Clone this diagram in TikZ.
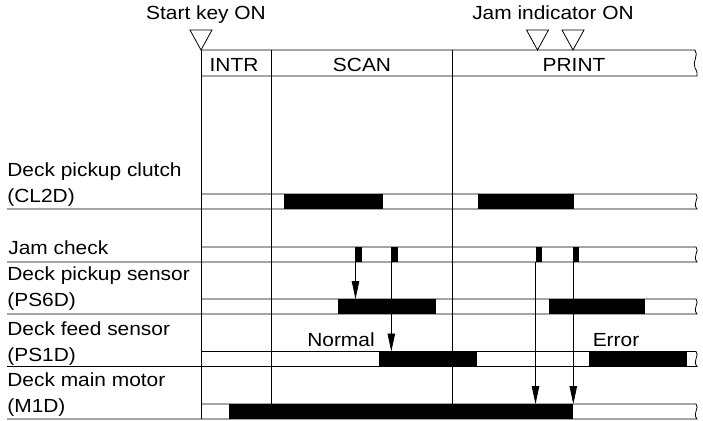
\documentclass[tikz,border=0pt]{standalone}
\usepackage{fontspec}
\setmainfont{Liberation Sans}[FakeStretch=1.1]
\usetikzlibrary{arrows.meta}

\begin{document}
\begin{tikzpicture}[x=1pt, y=-1pt, line width=0.8pt,
    font=\fontsize{19}{26}\selectfont,
    lbl/.style={anchor=base west, inner sep=0pt, align=left},
    hd/.style={anchor=base, inner sep=0pt},
    sig/.style={-{Triangle[width=7.5pt,length=18pt]}}]
    \useasboundingbox (0,0) rectangle (703,420);

    % trigger marks
    \node[hd] (startkey) at (206,19.5) {Start key ON};
    \node[hd] (jamind) at (553,19.5) {Jam indicator ON};
    \draw (190,30) -- (212,30) -- (201,50) -- cycle;
    \draw (526.5,30) -- (548.5,30) -- (537.5,50) -- cycle;
    \draw (562,30) -- (584,30) -- (573,50) -- cycle;

    % header strip
    \draw (201,50) -- (695,50) .. controls (699,55) and (692,62) .. (695,68)
        .. controls (697,71) .. (697,76) -- (201,76);
    \node[hd] (intr) at (234,71) {INTR};
    \node[hd] (scan) at (362,71) {SCAN};
    \node[hd] (print) at (574,71) {PRINT};

    % signal names (base = last line)
    \node[lbl] (clutch) at (7,202) {Deck pickup clutch\\(CL2D)};
    \node[lbl] (jamchk) at (8,254) {Jam check};
    \node[lbl] (ps6d) at (7,306.7) {Deck pickup sensor\\(PS6D)};
    \node[lbl] (ps1d) at (7,361) {Deck feed sensor\\(PS1D)};
    \node[lbl] (m1d) at (7,412.7) {Deck main motor\\(M1D)};

    % on periods
    \fill (284,194) rectangle (382.7,209);
    \fill (477.7,194) rectangle (574.3,209);
    \fill (355,247) rectangle (361.7,262);
    \fill (391,247) rectangle (397.7,262);
    \fill (535.7,247) rectangle (542.3,262);
    \fill (572.7,247) rectangle (579.3,262);
    \fill (338,299) rectangle (436,314);
    \fill (548.7,299) rectangle (645.3,314);
    \fill (379,351.5) rectangle (477.3,366.5);
    \fill (589.3,351.5) rectangle (687.3,366.5);
    \fill (229,404) rectangle (573.3,419);

    % strips
    \foreach \t in {194,247,299,351.5,404}
        \draw (201,\t) -- (696,\t) .. controls (700,\t+4) and (692,\t+9) .. (697,\t+15) -- (7,\t+15);

    % phase lines
    \draw (201,50) -- (201,419);
    \draw (271.3,50) -- (271.3,404);
    \draw (452,50) -- (452,404);

    \node[hd] (normal) at (341,346.7) {Normal};
    \node[hd] (error) at (616,346.7) {Error};

    % jam detection
    \coordinate (jc1) at (355.5,262);
    \coordinate (jc2) at (391.3,262);
    \coordinate (jc3) at (535.5,262);
    \coordinate (jc4) at (573.3,262);
    \coordinate (pickup) at (355.5,299);
    \coordinate (feed) at (391.3,351.5);
    \coordinate (motor1) at (535.5,404);
    \coordinate (motor2) at (573.3,404);
    \draw[sig] (jc1) -- (pickup);
    \draw[sig] (jc2) -- (feed);
    \draw[sig] (jc3) -- (motor1);
    \draw[sig] (jc4) -- (motor2);

\end{tikzpicture}
\end{document}
